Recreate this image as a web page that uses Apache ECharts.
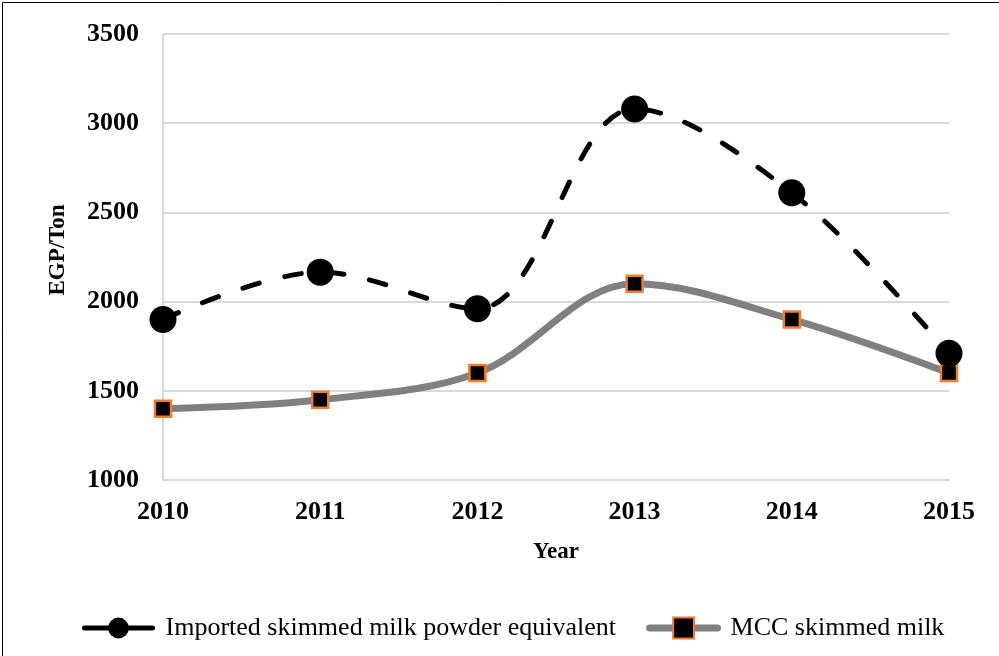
<!DOCTYPE html>
<html>
<head>
<meta charset="utf-8">
<script src="https://cdn.jsdelivr.net/npm/echarts@6/dist/echarts.min.js"></script>
<style>
html,body{margin:0;padding:0;background:#fff;}
#chart{width:999px;height:656px;}
</style>
</head>
<body>
<div id="chart"></div>
<script>
const years = ['2010', '2011', '2012', '2013', '2014', '2015'];
const importedSMP = [1900, 2165, 1960, 3080, 2610, 1710];
const mccSkimmed = [1400, 1450, 1600, 2100, 1900, 1600];
const seriesNames = ['Imported skimmed milk powder equivalent', 'MCC skimmed milk'];
const yMin = 1000, yMax = 3500, yStep = 500;

const FONT = '"Liberation Serif", "Times New Roman", serif';
const chart = echarts.init(document.getElementById('chart'), null, {renderer: 'canvas'});
chart.setOption({
  backgroundColor: '#fff',
  animation: false,
  graphic: [{
    type: 'rect', left: 0, top: 0, z: 100,
    shape: {x: 0.5, y: 0.5, width: 998, height: 655},
    style: {fill: 'none', stroke: '#000', lineWidth: 1}
  }],
  grid: {left: 163, right: 50, top: 34, bottom: 176},
  legend: {
    left: 77, top: 610,
    itemWidth: 68, itemHeight: 26, itemGap: 30,
    textStyle: {fontFamily: FONT, fontSize: 26, color: '#000', padding: [0, 0, 0, 8]},
    data: [
      {name: seriesNames[0], lineStyle: {type: 'solid', width: 5, color: '#000', cap: 'round'}},
      {name: seriesNames[1], lineStyle: {type: 'solid', width: 7, color: '#808080', cap: 'round'}}
    ]
  },
  xAxis: {
    type: 'category', data: years, boundaryGap: false,
    name: 'Year', nameLocation: 'middle', nameGap: 61,
    nameTextStyle: {fontFamily: FONT, fontSize: 23, fontWeight: 'bold', color: '#000'},
    axisLine: {show: true, lineStyle: {color: '#d9d9d9', width: 2}},
    axisTick: {show: false},
    axisLabel: {fontFamily: FONT, fontSize: 26, fontWeight: 'bold', color: '#000', margin: 19},
    splitLine: {show: false}
  },
  yAxis: {
    type: 'value', min: yMin, max: yMax, interval: yStep,
    name: 'EGP/Ton', nameLocation: 'middle', nameGap: 93,
    nameTextStyle: {fontFamily: FONT, fontSize: 23, fontWeight: 'bold', color: '#000', padding: [0, 0, 0, 14]},
    axisLine: {show: true, lineStyle: {color: '#d9d9d9', width: 2}},
    axisTick: {show: false},
    axisLabel: {fontFamily: FONT, fontSize: 26, fontWeight: 'bold', color: '#000', margin: 24,
      formatter: function (v) { return String(v); }},
    splitLine: {show: true, lineStyle: {color: '#d9d9d9', width: 2}}
  },
  series: [
    {
      name: seriesNames[0], type: 'line', data: importedSMP, smooth: 0.35,
      symbol: 'circle', symbolSize: 27,
      lineStyle: {color: '#000', width: 5, type: [17, 26], cap: 'round'},
      itemStyle: {color: '#000', borderWidth: 0},
      z: 3
    },
    {
      name: seriesNames[1], type: 'line', data: mccSkimmed, smooth: 0.35,
      symbol: 'rect', symbolSize: 16,
      lineStyle: {color: '#808080', width: 7},
      itemStyle: {color: '#000', borderColor: '#ED7D31', borderWidth: 2.5},
      z: 2
    }
  ]
});
</script>
</body>
</html>
